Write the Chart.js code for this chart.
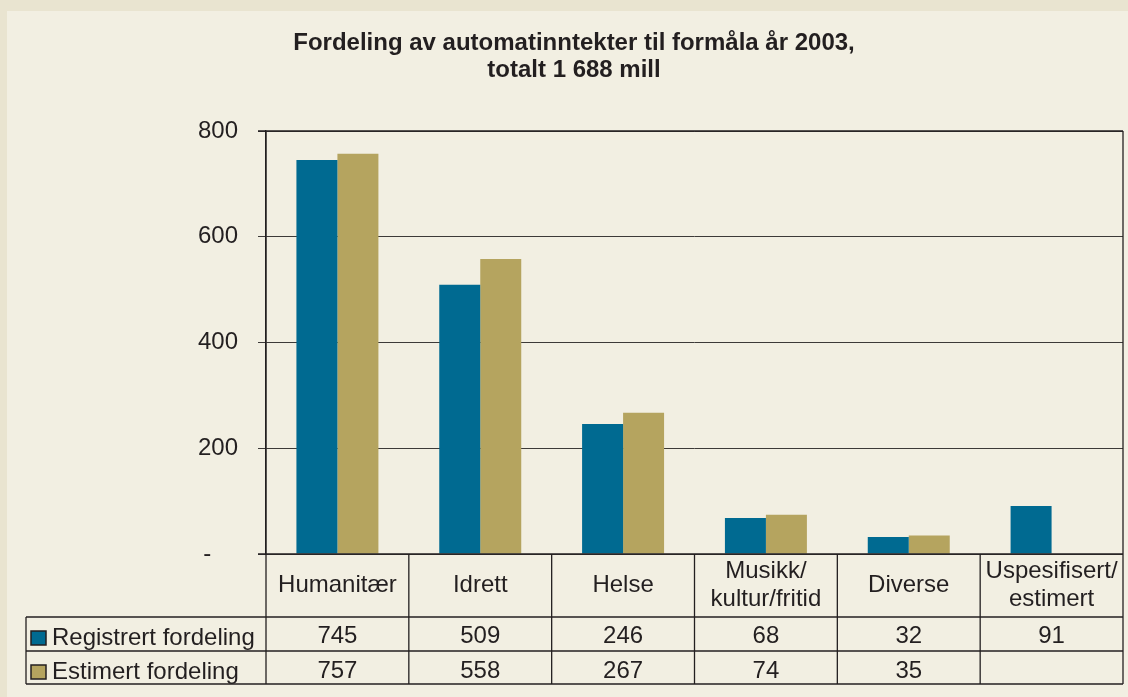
<!DOCTYPE html>
<html lang="no">
<head>
<meta charset="utf-8">
<title>Fordeling av automatinntekter til formåla år 2003</title>
<script src="https://cdn.jsdelivr.net/npm/chart.js@4.4.1/dist/chart.umd.min.js"></script>
<style>
html,body{margin:0;padding:0;background:#e9e4d0;overflow:hidden}
canvas{display:block}
</style>
</head>
<body>
<canvas id="chart" width="1128" height="697"></canvas>
<script>
// ---- data ----
const titleLines = ['Fordeling av automatinntekter til formåla år 2003,', 'totalt 1 688 mill'];
const categories = [['Humanitær'], ['Idrett'], ['Helse'], ['Musikk/', 'kultur/fritid'], ['Diverse'], ['Uspesifisert/', 'estimert']];
const seriesNames = ['Registrert fordeling', 'Estimert fordeling'];
const registrert = [745, 509, 246, 68, 32, 91];
const estimert = [757, 558, 267, 74, 35, null];
const yTickValues = [0, 200, 400, 600, 800];

// ---- style ----
const FONT = "'Liberation Sans', Arial, Helvetica, sans-serif";
const INK = '#231f20';
const BLUE = '#006a91';
const TAN = '#b5a45f';
const GRID = '#3d3a38';

const backgroundPlugin = {
  id: 'bg',
  beforeDraw(chart) {
    const {ctx, width, height} = chart;
    ctx.save();
    ctx.fillStyle = '#e9e4d0';
    ctx.fillRect(0, 0, width, height);
    ctx.fillStyle = '#f2efe2';
    ctx.fillRect(7, 11, width - 7, height - 11);
    ctx.restore();
  }
};

const titlePlugin = {
  id: 'titleText',
  afterDraw(chart) {
    const {ctx} = chart;
    ctx.save();
    ctx.fillStyle = INK;
    ctx.font = 'bold 24px ' + FONT;
    ctx.textAlign = 'center';
    ctx.textBaseline = 'alphabetic';
    titleLines.forEach((t, i) => ctx.fillText(t, 574, 50 + i * 27));
    ctx.restore();
  }
};

const tablePlugin = {
  id: 'dataTable',
  afterDraw(chart) {
    const {ctx, chartArea: a, scales: {x}} = chart;
    const half = (x.getPixelForValue(1) - x.getPixelForValue(0)) / 2;
    const r0 = a.bottom, r1 = r0 + 63, r2 = r1 + 34, r3 = r2 + 33;
    const tableLeft = 26;
    const ln = (x1, y1, x2, y2) => { ctx.beginPath(); ctx.moveTo(x1, y1); ctx.lineTo(x2, y2); ctx.stroke(); };
    ctx.save();
    ctx.strokeStyle = INK;
    ctx.lineWidth = 1.3;
    // frame
    ln(a.left - 8, a.top, a.right, a.top);
    ln(a.right, a.top, a.right, r3);
    ln(a.left - 8, r0, a.right, r0);
    ln(tableLeft, r1, a.right, r1);
    ln(tableLeft, r2, a.right, r2);
    ln(tableLeft, r3, a.right, r3);
    ln(tableLeft, r1, tableLeft, r3);
    for (let i = 0; i < categories.length; i++) {
      const xb = x.getPixelForValue(i) - half;
      ln(xb, i === 0 ? a.top : r0, xb, r3);
    }
    // values
    ctx.fillStyle = INK;
    ctx.font = '24px ' + FONT;
    ctx.textAlign = 'center';
    ctx.textBaseline = 'alphabetic';
    [registrert, estimert].forEach((arr, s) => {
      arr.forEach((v, i) => {
        if (v === null || v === undefined) return;
        ctx.fillText(String(v), x.getPixelForValue(i), s === 0 ? r1 + 26 : r2 + 27);
      });
    });
    // legend
    const colors = [BLUE, TAN];
    ctx.textAlign = 'left';
    seriesNames.forEach((name, s) => {
      const top = s === 0 ? r1 : r2;
      ctx.fillStyle = colors[s];
      ctx.fillRect(31, top + 14, 15, 14);
      ctx.lineWidth = 1.5;
      ctx.strokeStyle = INK;
      ctx.strokeRect(31, top + 14, 15, 14);
      ctx.fillStyle = INK;
      ctx.fillText(name, 52, top + 28);
    });
    ctx.restore();
  }
};

new Chart(document.getElementById('chart'), {
  type: 'bar',
  data: {
    labels: categories,
    datasets: [
      {label: seriesNames[0], data: registrert, backgroundColor: BLUE, borderWidth: 0},
      {label: seriesNames[1], data: estimert, backgroundColor: TAN, borderWidth: 0}
    ]
  },
  options: {
    responsive: false,
    animation: false,
    devicePixelRatio: 1,
    datasets: {bar: {categoryPercentage: 0.574, barPercentage: 1}},
    layout: {padding: {top: 131, right: 5, bottom: 0, left: 0}},
    plugins: {legend: {display: false}, title: {display: false}, tooltip: {enabled: false}},
    scales: {
      x: {
        grid: {display: false, drawTicks: false},
        border: {display: false},
        ticks: {
          font: {family: FONT, size: 24, lineHeight: 1.1667},
          color: INK,
          padding: 17.5,
          crossAlign: 'center',
          maxRotation: 0,
          autoSkip: false
        },
        afterFit(s) { s.height = 143; s.paddingLeft = 0; s.paddingRight = 0; }
      },
      y: {
        min: 0,
        max: 800,
        afterBuildTicks(s) { s.ticks = yTickValues.map(v => ({value: v})); },
        ticks: {
          font: {family: FONT, size: 24},
          color: INK,
          padding: 20,
          callback: v => (v === 0 ? '-    ' : String(v))
        },
        grid: {color: GRID, lineWidth: 1, tickLength: 8, drawTicks: true},
        border: {display: true, color: INK, width: 1.3},
        afterFit(s) { s.width = 266; }
      }
    }
  },
  plugins: [backgroundPlugin, titlePlugin, tablePlugin]
});
</script>
</body>
</html>
